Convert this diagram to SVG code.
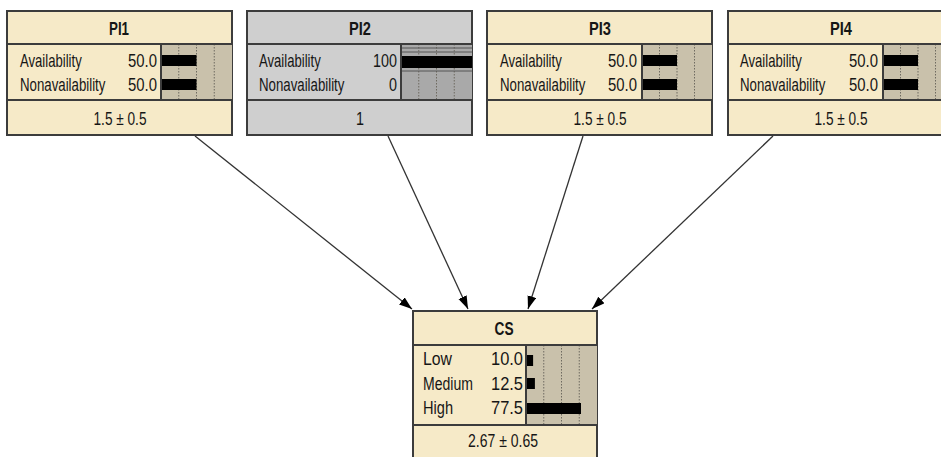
<svg xmlns="http://www.w3.org/2000/svg" width="941" height="457" viewBox="0 0 941 457">
<style>
.box{fill:#f6eac8;stroke:#3c3c3c;stroke-width:2}
.gbox{fill:#cfcfcf;stroke:#3c3c3c;stroke-width:2}
.sep{stroke:#3c3c3c;stroke-width:2;fill:none}
.bar{fill:#c9c1ab;stroke:none}
.gbarbg{fill:#a9a9a9;stroke:none}
.dot{stroke:#6e6a60;stroke-width:1;stroke-dasharray:1.5 1.5;fill:none}
.blk{fill:#000}
text{font-family:"Liberation Sans",Arial,sans-serif;fill:#161616;font-size:17.5px}
.t{font-weight:bold;text-anchor:middle}
.c{text-anchor:middle}
.r{text-anchor:end}
.edge{stroke:#333;stroke-width:1.3;fill:none;marker-end:url(#ah)}
</style>
<defs>
<marker id="ah" markerUnits="userSpaceOnUse" markerWidth="14" markerHeight="10" refX="13" refY="4.5" orient="auto">
<path d="M0,0 L13,4.5 L0,9 Z" fill="#000"/>
</marker>
</defs>

<g id="connectors">
<line class="edge" x1="195" y1="136" x2="412" y2="309"/>
<line class="edge" x1="388" y1="136" x2="468" y2="309"/>
<line class="edge" x1="583" y1="136" x2="528" y2="309"/>
<line class="edge" x1="773" y1="136" x2="592" y2="309"/>
</g>

<g id="PI1">
<rect class="box" x="7" y="11" width="225" height="124"/>
<rect class="bar" x="161" y="44" width="71" height="56"/>
<line class="dot" x1="178.75" y1="44" x2="178.75" y2="100"/>
<line class="dot" x1="196.5" y1="44" x2="196.5" y2="100"/>
<line class="dot" x1="214.25" y1="44" x2="214.25" y2="100"/>
<rect class="blk" x="161" y="55" width="35.5" height="11"/>
<rect class="blk" x="161" y="79" width="35.5" height="11"/>
<line class="sep" x1="161" y1="44" x2="161" y2="100"/>
<line class="sep" x1="7" y1="44" x2="232" y2="44"/>
<line class="sep" x1="7" y1="100" x2="232" y2="100"/>
<text class="t" x="119" y="35" textLength="20" lengthAdjust="spacingAndGlyphs">PI1</text>
<text transform="matrix(0.75 0 0 1 20 67)">Availability</text>
<text transform="matrix(0.757 0 0 1 20 91)">Nonavailability</text>
<text class="r" transform="matrix(0.85 0 0 1 157 67)">50.0</text>
<text class="r" transform="matrix(0.85 0 0 1 157 91)">50.0</text>
<text class="c" x="120" y="125" textLength="53" lengthAdjust="spacingAndGlyphs">1.5 ± 0.5</text>
</g>

<g id="PI2">
<rect class="gbox" x="247" y="11" width="225" height="124"/>
<rect class="gbarbg" x="401" y="44" width="71" height="56"/>
<line class="dot" x1="418.75" y1="44" x2="418.75" y2="100"/>
<line class="dot" x1="436.5" y1="44" x2="436.5" y2="100"/>
<line class="dot" x1="454.25" y1="44" x2="454.25" y2="100"/>
<line x1="401" y1="48" x2="472" y2="48" stroke="#555" stroke-width="1"/>
<line x1="401" y1="52" x2="472" y2="52" stroke="#555" stroke-width="1"/>
<line x1="401" y1="71" x2="472" y2="71" stroke="#555" stroke-width="1"/>
<rect class="blk" x="401" y="56" width="71" height="12"/>
<line class="sep" x1="401" y1="44" x2="401" y2="100"/>
<line class="sep" x1="247" y1="44" x2="472" y2="44"/>
<line class="sep" x1="247" y1="100" x2="472" y2="100"/>
<text class="t" x="360" y="35" textLength="22" lengthAdjust="spacingAndGlyphs">PI2</text>
<text transform="matrix(0.75 0 0 1 259 67)">Availability</text>
<text transform="matrix(0.757 0 0 1 259 91)">Nonavailability</text>
<text class="r" transform="matrix(0.82 0 0 1 397 67)">100</text>
<text class="r" transform="matrix(0.82 0 0 1 397 91)">0</text>
<text class="c" transform="matrix(0.82 0 0 1 360 125)">1</text>
</g>

<g id="PI3">
<rect class="box" x="487" y="11" width="225" height="124"/>
<rect class="bar" x="642" y="44" width="70" height="56"/>
<line class="dot" x1="659.5" y1="44" x2="659.5" y2="100"/>
<line class="dot" x1="677" y1="44" x2="677" y2="100"/>
<line class="dot" x1="694.5" y1="44" x2="694.5" y2="100"/>
<rect class="blk" x="642" y="55" width="35" height="11"/>
<rect class="blk" x="642" y="79" width="35" height="11"/>
<line class="sep" x1="642" y1="44" x2="642" y2="100"/>
<line class="sep" x1="487" y1="44" x2="712" y2="44"/>
<line class="sep" x1="487" y1="100" x2="712" y2="100"/>
<text class="t" x="600" y="35" textLength="22" lengthAdjust="spacingAndGlyphs">PI3</text>
<text transform="matrix(0.75 0 0 1 500 67)">Availability</text>
<text transform="matrix(0.757 0 0 1 500 91)">Nonavailability</text>
<text class="r" transform="matrix(0.85 0 0 1 637 67)">50.0</text>
<text class="r" transform="matrix(0.85 0 0 1 637 91)">50.0</text>
<text class="c" x="600" y="125" textLength="53" lengthAdjust="spacingAndGlyphs">1.5 ± 0.5</text>
</g>

<g id="PI4">
<rect class="box" x="728" y="11" width="225" height="124"/>
<rect class="bar" x="883" y="44" width="70" height="56"/>
<line class="dot" x1="900.5" y1="44" x2="900.5" y2="100"/>
<line class="dot" x1="918" y1="44" x2="918" y2="100"/>
<line class="dot" x1="935.5" y1="44" x2="935.5" y2="100"/>
<rect class="blk" x="883" y="55" width="35" height="11"/>
<rect class="blk" x="883" y="79" width="35" height="11"/>
<line class="sep" x1="883" y1="44" x2="883" y2="100"/>
<line class="sep" x1="728" y1="44" x2="953" y2="44"/>
<line class="sep" x1="728" y1="100" x2="953" y2="100"/>
<text class="t" x="841" y="35" textLength="22" lengthAdjust="spacingAndGlyphs">PI4</text>
<text transform="matrix(0.75 0 0 1 740 67)">Availability</text>
<text transform="matrix(0.757 0 0 1 740 91)">Nonavailability</text>
<text class="r" transform="matrix(0.85 0 0 1 878 67)">50.0</text>
<text class="r" transform="matrix(0.85 0 0 1 878 91)">50.0</text>
<text class="c" x="841" y="125" textLength="53" lengthAdjust="spacingAndGlyphs">1.5 ± 0.5</text>
</g>

<g id="CS">
<rect class="box" x="413" y="311" width="184" height="150"/>
<rect class="bar" x="526" y="345" width="71" height="80"/>
<line class="dot" x1="543.75" y1="345" x2="543.75" y2="425"/>
<line class="dot" x1="561.5" y1="345" x2="561.5" y2="425"/>
<line class="dot" x1="579.25" y1="345" x2="579.25" y2="425"/>
<rect class="blk" x="526" y="355" width="7.1" height="11"/>
<rect class="blk" x="526" y="378" width="8.9" height="11"/>
<rect class="blk" x="526" y="403" width="55" height="11"/>
<line class="sep" x1="526" y1="345" x2="526" y2="425"/>
<line class="sep" x1="413" y1="345" x2="597" y2="345"/>
<line class="sep" x1="413" y1="425" x2="597" y2="425"/>
<text class="t" x="504" y="335" textLength="19" lengthAdjust="spacingAndGlyphs">CS</text>
<text x="423" y="365" textLength="29" lengthAdjust="spacingAndGlyphs">Low</text>
<text x="423" y="390" textLength="50" lengthAdjust="spacingAndGlyphs">Medium</text>
<text x="423" y="414" textLength="30" lengthAdjust="spacingAndGlyphs">High</text>
<text class="r" x="523" y="365" textLength="32" lengthAdjust="spacingAndGlyphs">10.0</text>
<text class="r" x="523" y="390" textLength="32" lengthAdjust="spacingAndGlyphs">12.5</text>
<text class="r" x="523" y="414" textLength="32" lengthAdjust="spacingAndGlyphs">77.5</text>
<text class="c" x="503" y="447" textLength="70" lengthAdjust="spacingAndGlyphs">2.67 ± 0.65</text>
</g>
</svg>
